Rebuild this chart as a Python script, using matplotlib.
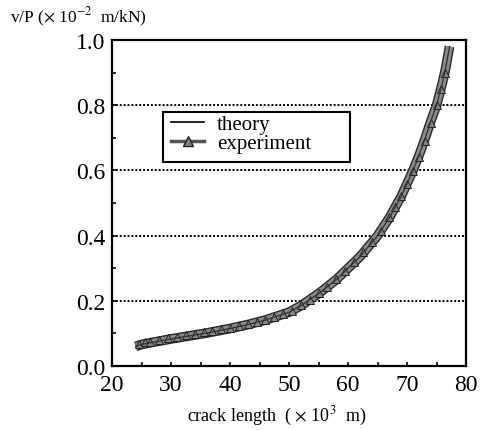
import matplotlib
matplotlib.use("Agg")
import matplotlib.pyplot as plt
from matplotlib.lines import Line2D
from matplotlib.patches import Rectangle

# Data
theory_x = [24, 25, 27, 30, 33, 36, 40, 43, 46, 50, 52, 55, 58, 60, 62, 64, 65, 67, 69, 70, 71, 72, 73, 74, 75, 75.5, 76, 76.5, 77, 77.2]
theory_y = [0.060, 0.066, 0.073, 0.083, 0.092, 0.101, 0.115, 0.127, 0.141, 0.165, 0.185, 0.222, 0.265, 0.300, 0.335, 0.378, 0.400, 0.455, 0.520, 0.560, 0.600, 0.645, 0.695, 0.750, 0.800, 0.835, 0.870, 0.910, 0.960, 0.980]

exp_x = [24.5, 25.5, 26.5, 28, 29.5, 31, 32.5, 34, 35.5, 37, 38.5, 40, 41.5, 43, 44.5, 46, 47.5, 49, 50.5, 52, 53.5, 55, 56.5, 58, 59.5, 61, 62.5, 64, 65.5, 67, 68, 69, 70, 71, 72, 73, 74, 75, 75.8, 76.5]
exp_y = [0.068, 0.075, 0.074, 0.080, 0.085, 0.089, 0.095, 0.098, 0.104, 0.108, 0.113, 0.118, 0.123, 0.128, 0.135, 0.142, 0.150, 0.158, 0.170, 0.186, 0.203, 0.224, 0.243, 0.268, 0.292, 0.320, 0.350, 0.380, 0.415, 0.458, 0.487, 0.520, 0.558, 0.598, 0.642, 0.690, 0.745, 0.800, 0.850, 0.900]

x_ticks = [20, 30, 40, 50, 60, 70, 80]
y_ticks = [0.0, 0.2, 0.4, 0.6, 0.8, 1.0]
y_tick_labels = ["0.0", "0.2", "0.4", "0.6", "0.8", "1.0"]

plt.rcParams['font.family'] = ['Liberation Serif', 'DejaVu Serif']
plt.rcParams['mathtext.fontset'] = 'stix'

fig = plt.figure(figsize=(4.83, 4.31), dpi=100)
ax = fig.add_axes([0.232, 0.1485, 0.733, 0.7565])

ax.set_xlim(20, 80)
ax.set_ylim(0.0, 1.0)

# gridlines
for yv in [0.2, 0.4, 0.6, 0.8]:
    ax.axhline(yv, color='black', linestyle=(0, (1, 1)), linewidth=1.4, zorder=1)

# experiment band
ax.plot(theory_x, theory_y, color='#2a2a2a', linewidth=7, solid_capstyle='butt', zorder=2)
ax.plot(theory_x, theory_y, color='#8a8a8a', linewidth=5, solid_capstyle='butt', zorder=2.5)
ax.plot(exp_x, exp_y, linestyle='none', marker='^', markersize=6,
        markerfacecolor='#858585', markeredgecolor='#222222', markeredgewidth=0.7, zorder=3)
ax.plot(theory_x, theory_y, color='#303030', linewidth=0.9, zorder=4)

ax.set_xticks(x_ticks)
ax.set_yticks(y_ticks)
ax.set_yticklabels(y_tick_labels)
ax.set_xticks([25, 35, 45, 55, 65, 75], minor=True)
ax.set_yticks([0.1, 0.3, 0.5, 0.7, 0.9], minor=True)
ax.tick_params(axis='x', which='major', direction='in', length=3, width=1.2, labelsize=17, pad=6)
ax.tick_params(axis='y', which='major', direction='in', length=3, width=1.2, labelsize=17, pad=5)
ax.tick_params(axis='both', which='minor', direction='in', length=3, width=1.2)
for s in ax.spines.values():
    s.set_linewidth(1.6)

# legend box
ax.add_patch(Rectangle((0.144, 0.626), 0.528, 0.153, transform=ax.transAxes,
                       fill=True, facecolor='white', edgecolor='black', linewidth=1.5, zorder=5))
theory_handle = Line2D([], [], color='black', linewidth=1.2)
exp_handle = Line2D([], [], color='#555555', linewidth=2.5, marker='^', markersize=7,
                    markerfacecolor='#808080', markeredgecolor='#222222')
leg = ax.legend([theory_handle, exp_handle], ['theory', 'experiment'],
                loc='upper left', bbox_to_anchor=(0.155, 0.785), fontsize=15,
                frameon=False, handlelength=1.6, labelspacing=0.0,
                borderpad=0.2, handletextpad=0.6, borderaxespad=0)
leg.set_zorder(6)

fig.text(0.02, 0.96, r"v/P ($\times$ 10$^{-2}$  m/kN)", fontsize=12.5, ha='left', va='center')
fig.text(0.574, 0.033, r"crack length  ( $\times$ 10$^{3}$  m)", fontsize=13, ha='center', va='center')

fig.savefig("out.png", dpi=100)
